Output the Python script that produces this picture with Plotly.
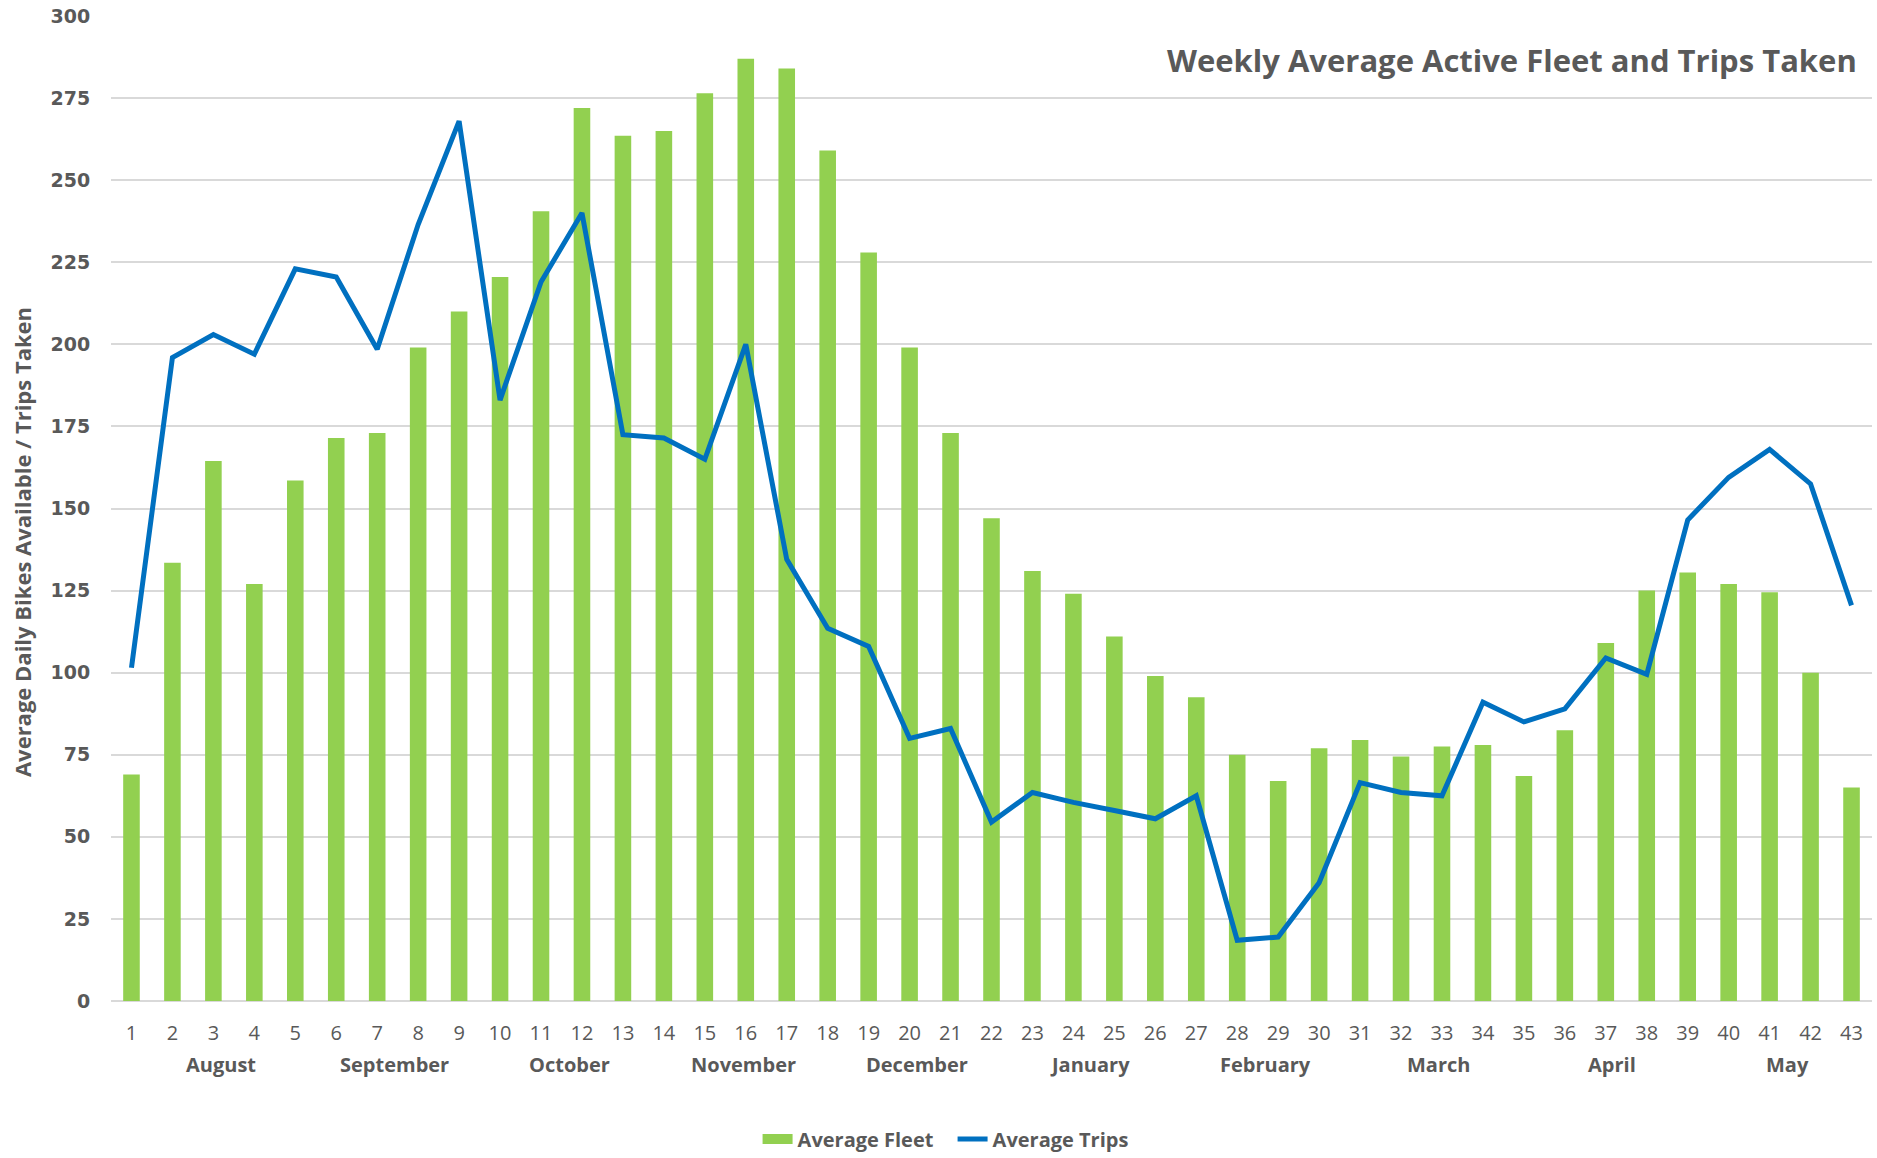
import plotly.graph_objects as go

weeks = list(range(1, 44))
week_labels = [str(w) for w in weeks]

avg_fleet = [69, 133.5, 164.5, 127, 158.5, 171.5, 173, 199, 210, 220.5,
             240.5, 272, 263.5, 265, 276.5, 287, 284, 259, 228, 199,
             173, 147, 131, 124, 111, 99, 92.5, 75, 67, 77,
             79.5, 74.5, 77.5, 78, 68.5, 82.5, 109, 125, 130.5, 127,
             124.5, 100, 65]

avg_trips = [101.5, 196, 203, 197, 223, 220.5, 198.5, 236.5, 268, 183,
             219, 240, 172.5, 171.5, 165, 200, 134.5, 113.5, 108, 80,
             83, 54.5, 63.5, 60.5, 58, 55.5, 62.5, 18.5, 19.5, 36,
             66.5, 63.5, 62.5, 91, 85, 89, 104.5, 99.5, 146.5, 159.5,
             168, 157.5, 120.5]

months = ["August", "September", "October", "November", "December",
          "January", "February", "March", "April", "May"]
month_pos = [3.19, 7.43, 11.70, 15.94, 20.18, 24.41, 28.68, 32.92, 37.16, 41.43]

y_ticks = list(range(0, 301, 25))

GRAY = "#595959"
GREEN = "#92D050"
BLUE = "#0070C0"
FONT = "Open Sans, sans-serif"

fig = go.Figure()
fig.add_trace(go.Bar(x=weeks, y=avg_fleet, name="Average Fleet", showlegend=False,
                     marker=dict(color=GREEN, line=dict(width=0))))
fig.add_trace(go.Scatter(x=[None], y=[None], name="Average Fleet", mode="lines",
                         line=dict(color=GREEN, width=14), hoverinfo="skip"))
fig.add_trace(go.Scatter(x=weeks, y=avg_trips, name="Average Trips", mode="lines",
                         line=dict(color=BLUE, width=5)))

annotations = []
for m, p in zip(months, month_pos):
    annotations.append(dict(x=p, xref="x", y=-0.0648, yref="paper", text=m,
                            showarrow=False, xanchor="center", yanchor="middle",
                            font=dict(family=FONT, size=20, color=GRAY, weight="bold")))
annotations.append(dict(x=-0.0505, xref="paper", y=0.466, yref="paper",
                        text="Average Daily Bikes Available / Trips Taken",
                        textangle=-90, showarrow=False, xanchor="center", yanchor="middle",
                        font=dict(family=FONT, size=22, color=GRAY, weight="bold")))
annotations.append(dict(x=0.9926, xref="paper", y=0.955, yref="paper",
                        text="Weekly Average Active Fleet and Trips Taken",
                        showarrow=False, xanchor="right", yanchor="middle",
                        font=dict(family=FONT, size=31, color=GRAY, weight="bold")))

fig.update_layout(
    width=1877, height=1158,
    margin=dict(l=111, r=5, t=13, b=157),
    plot_bgcolor="white", paper_bgcolor="white",
    bargap=0.595,
    showlegend=True,
    legend=dict(orientation="h", xref="container", x=0.5075, xanchor="center",
                yref="container", y=0.0165, yanchor="middle",
                font=dict(family=FONT, size=20, color=GRAY, weight="bold"),
                entrywidth=150, entrywidthmode="pixels"),
    annotations=annotations,
    xaxis=dict(range=[0.5, 43.5], tickmode="array", tickvals=weeks, ticktext=week_labels,
               showgrid=False, zeroline=False, showline=False,
               ticks="outside", ticklen=14, tickcolor="rgba(0,0,0,0)",
               tickfont=dict(family=FONT, size=20, color=GRAY)),
    yaxis=dict(range=[0, 300], tickmode="array", tickvals=y_ticks,
               showgrid=True, gridcolor="#D9D9D9", gridwidth=1.5,
               zeroline=True, zerolinecolor="#D9D9D9", zerolinewidth=1.5,
               showline=False, ticks="outside", ticklen=16, tickcolor="rgba(0,0,0,0)",
               ticklabeloverflow="allow",
               tickfont=dict(family="DejaVu Sans", size=19, color=GRAY, weight="bold")),
)

fig.write_html("out.html", config={"displayModeBar": False},
               post_script="document.body.style.margin='0';")
